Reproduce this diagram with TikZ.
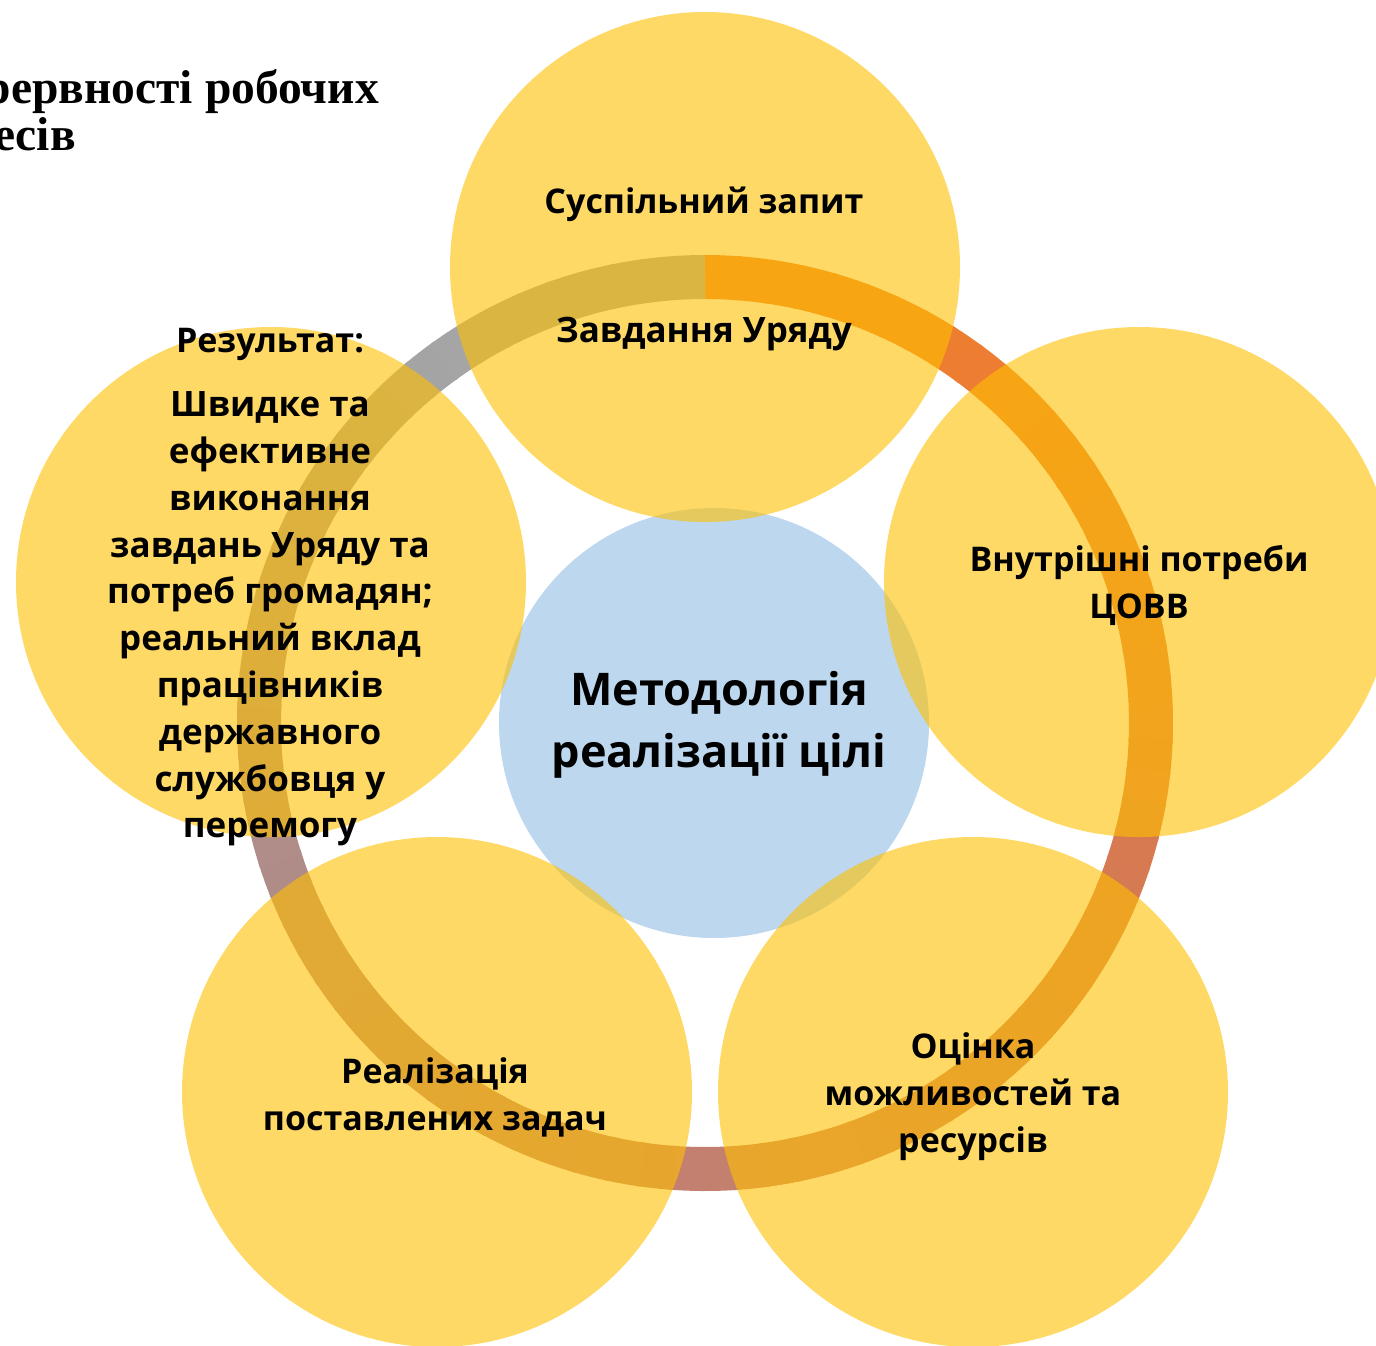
\documentclass[tikz,border=0pt]{standalone}
\usepackage{fontspec}
\setmainfont{Open Sans}
\newfontfamily\titlefont{Liberation Serif}
\usetikzlibrary{calc}
\definecolor{gold}{HTML}{FFC000}
\definecolor{rc0}{HTML}{ED7D31}
\definecolor{rc1}{HTML}{D77A52}
\definecolor{rc2}{HTML}{C48070}
\definecolor{rc3}{HTML}{B08C88}
\definecolor{rc4}{HTML}{A5A5A5}
\definecolor{paleblue}{HTML}{BCD7EE}
\tikzset{
  bubble/.style={circle, fill=gold, fill opacity=0.6, draw=none, minimum size=510pt, inner sep=0pt},
  centerbubble/.style={circle, fill=paleblue, draw=none, minimum size=430pt, inner sep=0pt},
  lbl/.style={font=\bfseries\fontsize{34}{47}\selectfont, align=center, inner sep=0pt, text=black},
  lblb/.style={font=\bfseries\fontsize{35}{46.8}\selectfont, align=center, inner sep=0pt, text=black},
  bigl/.style={font=\bfseries\fontsize{45}{62}\selectfont, align=center, inner sep=0pt, text=black},
  ttl/.style={font=\titlefont\bfseries\fontsize{47.5}{47}\selectfont, inner sep=0pt, text=black}
}
\begin{document}
\begin{tikzpicture}[x=1pt,y=-1pt]
\useasboundingbox (0,0) rectangle (1376,1345);
\clip (0,0) rectangle (1376,1345);
\coordinate (ctr) at (705,723);
% ring with angular gradient (clockwise from the top: orange to grey)
\foreach \i in {0,...,89} {
  \pgfmathsetmacro\phA{-90+4*\i}
  \pgfmathsetmacro\phB{min(-90+4*\i+4.6,270)}
  \pgfmathsetmacro\f{(\i+0.5)/90}
  \pgfmathsetmacro\g{min(max((\f-0.1)/0.2,0),3.999)}
  \pgfmathtruncatemacro\k{\g}
  \pgfmathtruncatemacro\kk{\k+1}
  \pgfmathtruncatemacro\p{100-100*(\g-\k)}
  \draw[line width=44pt, color={rc\k!\p!rc\kk}] (ctr) ++(\phA:446) arc[start angle=\phA, end angle=\phB, radius=446];
}
% centre circle
\node[centerbubble] (mid) at (714,723) {};
% outer circles
\node[bubble] (c1) at (705,267) {};
\node[bubble] (c2) at (1139,582) {};
\node[bubble] (c3) at (973,1092) {};
\node[bubble] (c4) at (437,1092) {};
\node[bubble] (c5) at (271,582) {};
% texts
\node[lbl] (t1a) at (704,204) {Суспільний запит};
\node[lbl, font=\bfseries\fontsize{35}{47}\selectfont] (t1b) at (704,334) {Завдання Уряду};
\node[lbl] (t2) at (1139,585) {Внутрішні потреби\\ЦОВВ};
\node[lbl] (t3) at (973,1097) {Оцінка\\можливостей та\\ресурсів};
\node[lbl] (t4) at (435,1097) {Реалізація\\поставлених задач};
\node[lbl] (t5a) at (270,344) {Результат:};
\node[lblb] (t5b) at (270,619) {Швидке та\\ефективне\\виконання\\завдань Уряду та\\потреб громадян;\\реальний вклад\\працівників\\державного\\службовця у\\перемогу};
\node[bigl] (tm) at (719,725) {Методологія\\реалізації цілі};
% title (cut off at the left edge, as in the source)
\node[ttl, anchor=base east] (h1) at (379,103) {перервності робочих};
\node[ttl, anchor=base east] (h2) at (76,150) {процесів};
\end{tikzpicture}
\end{document}
